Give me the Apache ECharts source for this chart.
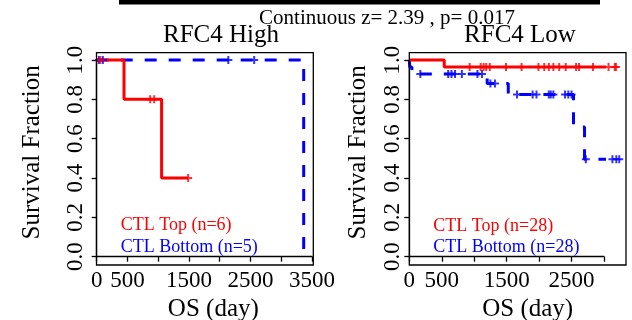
<!DOCTYPE html>
<html>
<head>
<meta charset="utf-8">
<script src="https://cdn.jsdelivr.net/npm/echarts@6.0.0/dist/echarts.min.js"></script>
<style>
  html, body { margin: 0; padding: 0; background: #fff; }
  #chart { width: 632px; height: 320px; }
</style>
</head>
<body>
<div id="chart"></div>
<script>
// Kaplan-Meier steps (days, survival fraction)
const highTopTime = [0, 444, 1055, 1487];
const highTopSurv = [1, 0.8, 0.4, 0.4];
const highTopCensorTime = [60, 870, 935, 1487];
const highTopCensorSurv = [1, 0.8, 0.8, 0.4];

const highBottomTime = [0, 3365];
const highBottomSurv = [1, 0];
const highBottomCensorTime = [35, 100, 2140, 2560];
const highBottomCensorSurv = [1, 1, 1, 1];

const lowTopTime = [0, 538, 3184];
const lowTopSurv = [1, 0.964, 0.964];
const lowTopCensorTime = [930, 1100, 1145, 1185, 1240, 1490, 1730, 1990, 2080, 2150, 2220, 2310, 2410, 2570, 2615, 2830, 3070, 3165, 3184];
const lowTopCensorSurv = lowTopCensorTime.map(() => 0.964);

const lowBottomTime = [0, 8, 40, 1200, 1525, 2530, 2700, 3235];
const lowBottomSurv = [1, 0.964, 0.929, 0.88, 0.825, 0.66, 0.495, 0.495];
const lowBottomCensorTime = [170, 600, 650, 705, 810, 1050, 1120, 1250, 1320, 1660, 1900, 1960, 2150, 2180, 2220, 2400, 2450, 2500, 2720, 3130, 3190, 3235];
const lowBottomCensorSurv = [0.929, 0.929, 0.929, 0.929, 0.929, 0.929, 0.929, 0.88, 0.88, 0.825, 0.825, 0.825, 0.825, 0.825, 0.825, 0.825, 0.825, 0.825, 0.495, 0.495, 0.495, 0.495];

const highTickLabels = [0, 500, 1500, 2500, 3500];
const lowTickLabels = [0, 500, 1500, 2500];
const yTicks = [0, 0.2, 0.4, 0.6, 0.8, 1.0];

const RED = '#ff0000';
const BLUE = '#0000ff';
const FONT = 'Liberation Serif';
const PLUS = 'path://M0,3H8V5H0Z M3,0H5V8H3Z';

const pairs = (xs, ys) => xs.map((x, i) => [x, ys[i]]);

function xAxisFor(gridIndex, max, labels, namePad) {
    return {
        gridIndex, type: 'value', min: 0, max: max, interval: 500,
        offset: 9.3,
        splitLine: { show: false },
        axisLine: { lineStyle: { color: '#000', width: 1.3 } },
        axisTick: { length: 5, lineStyle: { color: '#000', width: 1.3 } },
        axisLabel: {
            color: '#000', fontFamily: FONT, fontSize: 23, margin: 3,
            formatter: v => labels.indexOf(v) >= 0 ? String(v) : ''
        },
        name: 'OS (day)', nameLocation: 'middle', nameGap: 27,
        nameTextStyle: { color: '#000', fontFamily: FONT, fontSize: 25, padding: namePad }
    };
}

function yAxisFor(gridIndex, labelMargin, nameGap) {
    return {
        gridIndex, type: 'value', min: 0, max: 1, interval: 0.2,
        splitLine: { show: false },
        axisLine: { lineStyle: { color: '#000', width: 1.3 } },
        axisTick: { length: 5, lineStyle: { color: '#000', width: 1.3 } },
        axisLabel: {
            color: '#000', fontFamily: FONT, fontSize: 23, margin: labelMargin, rotate: 90,
            formatter: v => yTicks.some(t => Math.abs(t - v) < 1e-6) ? v.toFixed(1) : ''
        },
        name: 'Survival Fraction', nameLocation: 'middle', nameRotate: 90, nameGap: nameGap,
        nameTextStyle: { color: '#000', fontFamily: FONT, fontSize: 25, padding: [0, 0, 0, 12] }
    };
}

function km(name, idx, xs, ys, color, dashed) {
    return {
        name, type: 'line', xAxisIndex: idx, yAxisIndex: idx,
        data: pairs(xs, ys), step: 'end', showSymbol: false, clip: false,
        lineStyle: { color, width: 3, type: dashed ? [12, 12] : 'solid' },
        z: dashed ? 2 : 3
    };
}

function marks(name, idx, xs, ys, color) {
    return {
        name, type: 'scatter', xAxisIndex: idx, yAxisIndex: idx,
        data: pairs(xs, ys), symbol: PLUS, symbolSize: 8, clip: false,
        itemStyle: { color }, z: 4
    };
}

const chart = echarts.init(document.getElementById('chart'), null, { renderer: 'canvas' });

const option = {
    animation: false,
    backgroundColor: '#fff',
    grid: [
        { left: 96.7, top: 60, width: 215.3, height: 196.7, containLabel: false, outerBoundsMode: 'none' },
        { left: 409.3, top: 60, width: 194.7, height: 196.7, containLabel: false, outerBoundsMode: 'none' }
    ],
    xAxis: [
        xAxisFor(0, 3500, highTickLabels, [0, 0, 0, 18]),
        xAxisFor(1, 3000, lowTickLabels, [0, 0, 0, 42])
    ],
    yAxis: [
        yAxisFor(0, 9, 52),
        yAxisFor(1, 5, 38)
    ],
    series: [
        km('CTL Bottom (n=5)', 0, highBottomTime, highBottomSurv, BLUE, true),
        marks('CTL Bottom censor', 0, highBottomCensorTime, highBottomCensorSurv, BLUE),
        km('CTL Top (n=6)', 0, highTopTime, highTopSurv, RED, false),
        marks('CTL Top censor', 0, highTopCensorTime, highTopCensorSurv, RED),
        km('CTL Bottom (n=28)', 1, lowBottomTime, lowBottomSurv, BLUE, true),
        marks('CTL Bottom censor', 1, lowBottomCensorTime, lowBottomCensorSurv, BLUE),
        km('CTL Top (n=28)', 1, lowTopTime, lowTopSurv, RED, false),
        marks('CTL Top censor', 1, lowTopCensorTime, lowTopCensorSurv, RED)
    ],
    graphic: [
        // plot frames
        { type: 'rect', shape: { x: 96.5, y: 52.7, width: 216.8, height: 212.3 }, style: { fill: 'none', stroke: '#000', lineWidth: 1.3 }, z: 10 },
        { type: 'rect', shape: { x: 409.3, y: 52.7, width: 216.7, height: 212.3 }, style: { fill: 'none', stroke: '#000', lineWidth: 1.3 }, z: 10 },
        // top rule
        { type: 'rect', shape: { x: 119, y: 0, width: 481, height: 4.5 }, style: { fill: '#000' } },
        { type: 'text', x: 387, y: 18, style: { text: 'Continuous z= 2.39 , p= 0.017', font: '21px "Liberation Serif"', fill: '#000', textAlign: 'center', textVerticalAlign: 'middle' } },
        { type: 'text', x: 221, y: 35, style: { text: 'RFC4 High', font: '25px "Liberation Serif"', fill: '#000', textAlign: 'center', textVerticalAlign: 'middle' } },
        { type: 'text', x: 520, y: 35, style: { text: 'RFC4 Low', font: '25px "Liberation Serif"', fill: '#000', textAlign: 'center', textVerticalAlign: 'middle' } },
        // legends
        { type: 'text', x: 120.7, y: 225, style: { text: 'CTL Top (n=6)', font: '18px "Liberation Serif"', fill: RED, textAlign: 'left', textVerticalAlign: 'middle' } },
        { type: 'text', x: 120.7, y: 247, style: { text: 'CTL Bottom (n=5)', font: '18px "Liberation Serif"', fill: BLUE, textAlign: 'left', textVerticalAlign: 'middle' } },
        { type: 'text', x: 433.3, y: 226, style: { text: 'CTL Top (n=28)', font: '18px "Liberation Serif"', fill: RED, textAlign: 'left', textVerticalAlign: 'middle' } },
        { type: 'text', x: 433.3, y: 247, style: { text: 'CTL Bottom (n=28)', font: '18px "Liberation Serif"', fill: BLUE, textAlign: 'left', textVerticalAlign: 'middle' } }
    ]
};

chart.setOption(option);
</script>
</body>
</html>
